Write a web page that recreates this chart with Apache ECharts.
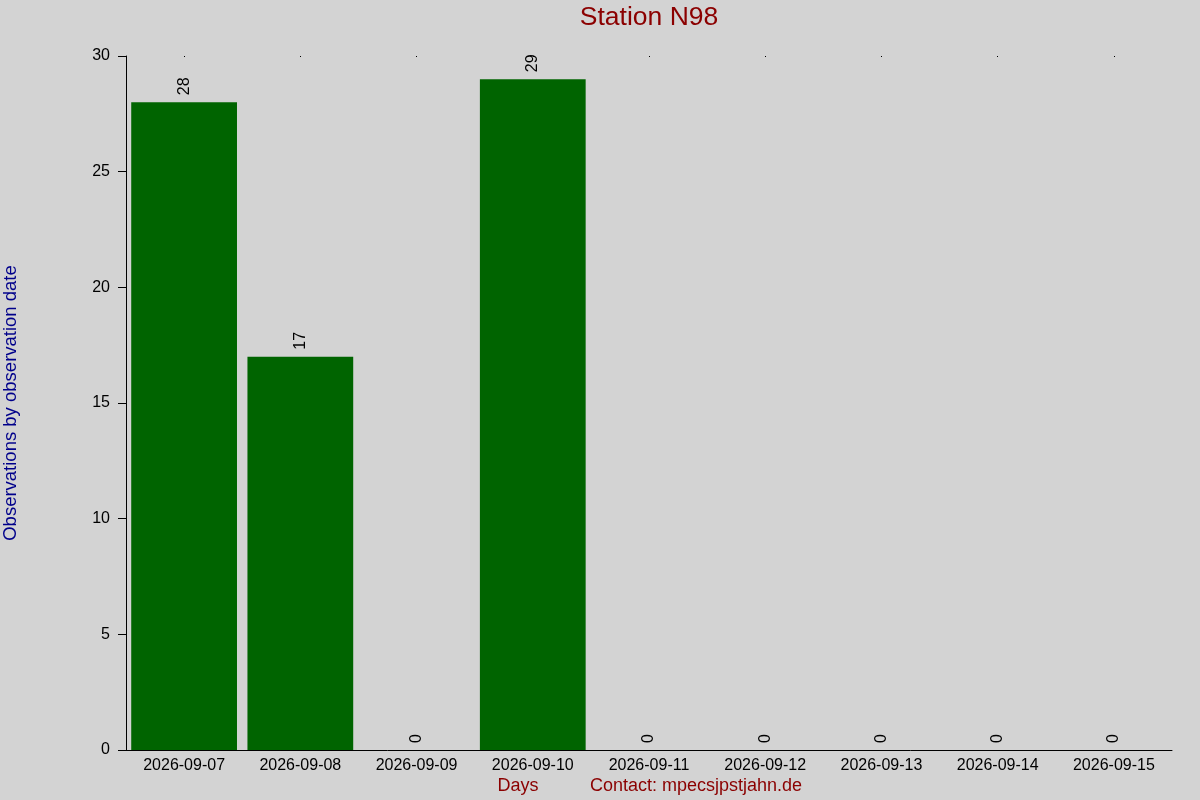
<!DOCTYPE html>
<html><head><meta charset="utf-8">
<script src="https://cdn.jsdelivr.net/npm/echarts@6/dist/echarts.min.js"></script>
<style>html,body{margin:0;padding:0;background:#d3d3d3}#c{width:1200px;height:800px}</style>
</head><body><div id="c"></div>
<script>
const categories = ['2026-09-07','2026-09-08','2026-09-09','2026-09-10','2026-09-11','2026-09-12','2026-09-13','2026-09-14','2026-09-15'];
const observations = [28, 17, 0, 29, 0, 0, 0, 0, 0];
const yTicks = {min: 0, max: 30, interval: 5};
const titleText = 'Station N98';
const yName = 'Observations by observation date';
const xName = 'Days';
const contactText = 'Contact: mpecsjpstjahn.de';

const FONT = 'Liberation Sans, Arial, sans-serif';
const chart = echarts.init(document.getElementById('c'));
chart.setOption({
  backgroundColor: '#d3d3d3',
  animation: false,
  grid: {left: 126, right: 28, top: 56, bottom: 50},
  xAxis: [{
    type: 'category', data: categories, position: 'bottom',
    axisLine: {show: true, lineStyle: {color: '#000', width: 1}},
    axisTick: {show: false},
    axisLabel: {color: '#000', fontFamily: FONT, fontSize: 16, margin: 8, interval: 0}
  }, {
    type: 'category', data: categories, position: 'top',
    axisLine: {show: false},
    axisTick: {show: true, alignWithLabel: true, length: 1, inside: true, lineStyle: {color: '#000'}},
    axisLabel: {show: false}
  }],
  yAxis: {
    type: 'value', min: yTicks.min, max: yTicks.max, interval: yTicks.interval,
    axisLine: {show: true, lineStyle: {color: '#000', width: 1}},
    axisTick: {show: true, length: 8, lineStyle: {color: '#000'}},
    splitLine: {show: false},
    axisLabel: {color: '#000', fontFamily: FONT, fontSize: 16, margin: 16}
  },
  series: [{
    type: 'bar', data: observations, xAxisIndex: 0,
    barCategoryGap: '9%',
    itemStyle: {color: '#006400'},
    label: {
      show: true, position: 'top', rotate: 90, distance: 7,
      align: 'left', verticalAlign: 'middle',
      color: '#000', fontFamily: FONT, fontSize: 16
    }
  }],
  graphic: [
    {type: 'text', x: 649, y: 18, style: {text: titleText, fill: '#8b0000', font: '26.5px ' + FONT, align: 'center', verticalAlign: 'middle'}},
    {type: 'text', x: 11, y: 403, rotation: Math.PI / 2, style: {text: yName, fill: '#00008b', font: '18.5px ' + FONT, align: 'center', verticalAlign: 'middle'}},
    {type: 'text', x: 518, y: 786, style: {text: xName, fill: '#8b0000', font: '18px ' + FONT, align: 'center', verticalAlign: 'middle'}},
    {type: 'text', x: 590, y: 786, style: {text: contactText, fill: '#8b0000', font: '18px ' + FONT, align: 'left', verticalAlign: 'middle'}}
  ]
});
</script></body></html>
